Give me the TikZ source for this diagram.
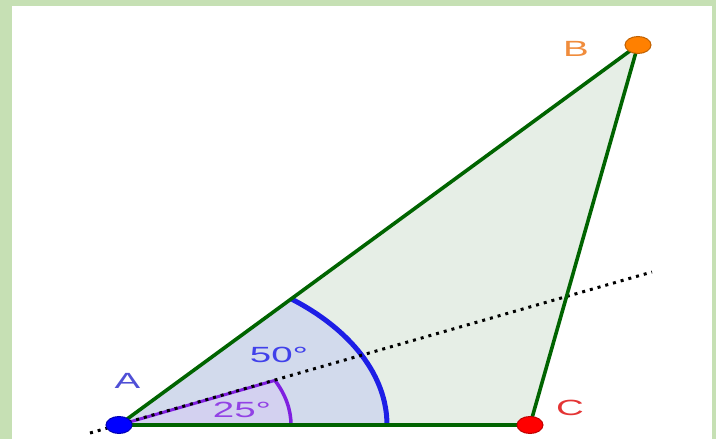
\documentclass[tikz,border=0pt]{standalone}
\usepackage{fontspec}
\setmainfont{Liberation Sans}
\usetikzlibrary{shapes.geometric}
\definecolor{frame}{HTML}{C6E0B4}
\definecolor{ggreen}{RGB}{0,100,0}
\definecolor{trifill}{HTML}{E6EEE6}
\definecolor{bigfill}{HTML}{D2DAEC}
\definecolor{smallfill}{HTML}{D3D1F0}
\definecolor{gblue}{HTML}{1E1EE6}
\definecolor{gpurple}{HTML}{7F1FE0}
\definecolor{gorange}{HTML}{FF8000}
\definecolor{lblA}{HTML}{4F4FD6}
\definecolor{lblB}{HTML}{F08C3C}
\definecolor{lblC}{HTML}{E43434}
\begin{document}
\begin{tikzpicture}[x=1pt,y=1pt,
  edge/.style={draw=ggreen,line width=3.6pt},
  pt/.style={ellipse,minimum width=26pt,minimum height=17pt,inner sep=0pt,line width=1pt},
  lbl/.style={font=\fontsize{22}{24}\selectfont,inner sep=0pt}]
\fill[frame] (0,0) rectangle (716,439);
\fill[white] (12,0) rectangle (712,433);
\useasboundingbox (0,0) rectangle (716,439);
\coordinate (A) at (119,14);
\coordinate (B) at (638,394);
\coordinate (C) at (530,14);
\coordinate (D0) at (90,6);
\coordinate (D1) at (652,167);
% triangle fill
\fill[trifill] (A) -- (B) -- (C) -- cycle;
% sectors
\fill[bigfill] (A) -- ++(268,0) arc[start angle=0,end angle=50,x radius=268,y radius=164.6] -- cycle;
\fill[smallfill] (A) -- ++(172,0) arc[start angle=0,end angle=25,x radius=172,y radius=105.6] coordinate (S1) -- cycle;
\draw[gblue,line width=5pt] (A) ++(268,0) arc[start angle=0,end angle=50,x radius=268,y radius=164.6];
\draw[gpurple,line width=3.5pt] (A) ++(172,0) arc[start angle=0,end angle=25,x radius=172,y radius=105.6];
\draw[gpurple,line width=3pt] (A) -- (S1);
% bisector
\draw[black,line width=3pt,dash pattern=on 3pt off 5pt] (D0) -- (D1);
% edges
\draw[edge] (A) -- (B);
\draw[edge] (B) -- (C);
\draw[edge] (C) -- (A);
% points
\node[pt,fill=blue,draw=blue!70!black] (pA) at (A) {};
\node[pt,fill=gorange,draw=gorange!75!black] (pB) at (B) {};
\node[pt,fill=red,draw=red!75!black] (pC) at (C) {};
% labels
\node[lbl,text=lblB] (lB) at (576,390) {\scalebox{1.75}[1]{B}};
\node[lbl,text=lblA] (lA) at (127.5,58) {\scalebox{1.75}[1]{A}};
\node[lbl,text=lblC] (lC) at (570,31) {\scalebox{1.75}[1]{C}};
\node[lbl,text=gblue!85!white] (l50) at (279,84) {\scalebox{1.75}[1]{50°}};
\node[lbl,text=gpurple!85!white] (l25) at (242,29) {\scalebox{1.75}[1]{25°}};
\end{tikzpicture}
\end{document}
